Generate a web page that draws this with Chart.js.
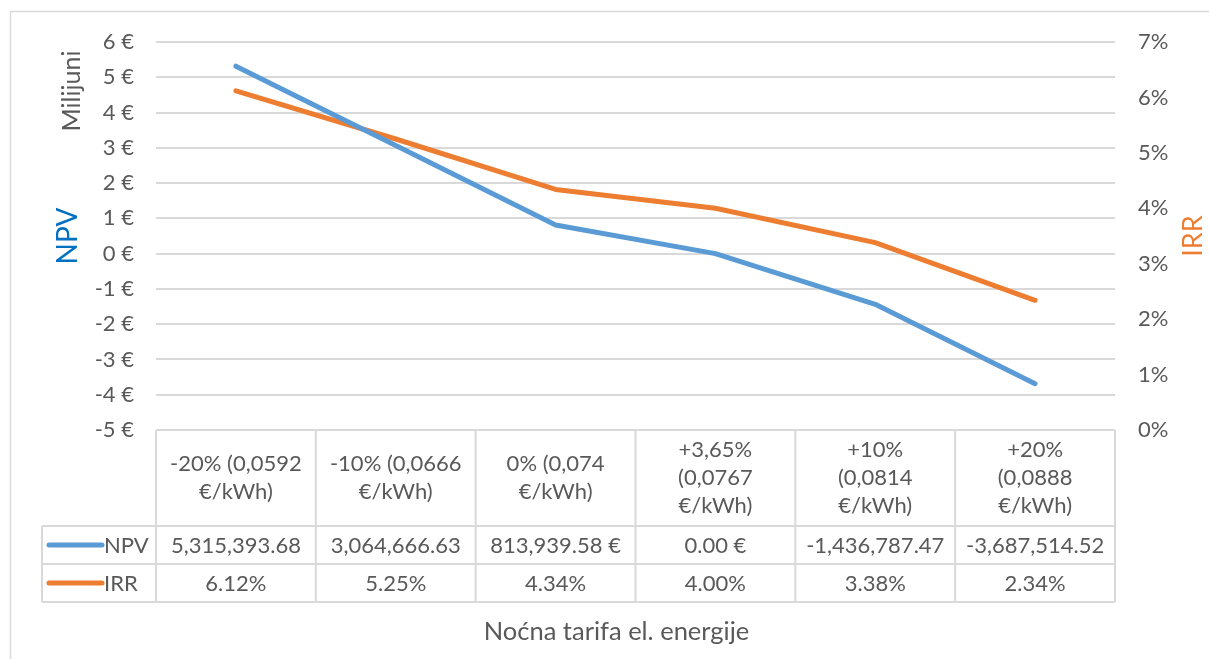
<!DOCTYPE html>
<html>
<head>
<meta charset="utf-8">
<script src="https://cdn.jsdelivr.net/npm/chart.js@4.4.0/dist/chart.umd.min.js"></script>
<style>
  html, body { margin: 0; padding: 0; background: #ffffff; }
  #wrap { width: 1209px; height: 659px; position: relative; }
</style>
</head>
<body>
<div id="wrap"><canvas id="c" width="1209" height="659"></canvas></div>
<script>
// ---- data ----
const categories = [
  ["-20% (0,0592", "€/kWh)"],
  ["-10% (0,0666", "€/kWh)"],
  ["0% (0,074", "€/kWh)"],
  ["+3,65%", "(0,0767", "€/kWh)"],
  ["+10%", "(0,0814", "€/kWh)"],
  ["+20%", "(0,0888", "€/kWh)"]
];
const npvMillions = [5.31539368, 3.06466663, 0.81393958, 0.0, -1.43678747, -3.68751452];
const irrPercent = [6.12, 5.25, 4.34, 4.00, 3.38, 2.34];
const npvTableText = ["5,315,393.68", "3,064,666.63", "813,939.58 €", "0.00 €", "-1,436,787.47", "-3,687,514.52"];
const irrTableText = ["6.12%", "5.25%", "4.34%", "4.00%", "3.38%", "2.34%"];
const seriesNames = ["NPV", "IRR"];
const npvAxisTitle = "NPV";
const irrAxisTitle = "IRR";
const unitsLabel = "Milijuni";
const xAxisTitle = "Noćna tarifa el. energije";

// ---- styles ----
const FONT = '"Lato", "Open Sans", sans-serif';
const TEXT = '#595959';
const GRID = '#D9D9D9';
const BLUE = '#5B9BD5';
const ORANGE = '#ED7D31';

const tablePlugin = {
  id: 'tablePlugin',
  beforeDraw(chart) {
    const ctx = chart.ctx;
    ctx.save();
    ctx.fillStyle = '#ffffff';
    ctx.fillRect(0, 0, chart.width, chart.height);
    ctx.strokeStyle = GRID;
    ctx.lineWidth = 1.5;
    ctx.strokeRect(10.5, 11.5, chart.width + 20, chart.height + 20);
    ctx.restore();
  },
  afterDraw(chart) {
    const ctx = chart.ctx;
    const x = chart.scales.x;
    const ca = chart.chartArea;
    const n = categories.length;
    const bandW = (x.right - x.left) / n;
    const top = ca.bottom;
    const headerBottom = top + 96;
    const row1Bottom = headerBottom + 38;
    const row2Bottom = row1Bottom + 38;
    const tableLeft = 42;

    ctx.save();
    ctx.strokeStyle = GRID;
    ctx.lineWidth = 2;
    const hline = (y, x0, x1) => { ctx.beginPath(); ctx.moveTo(x0, y); ctx.lineTo(x1, y); ctx.stroke(); };
    const vline = (xx, y0, y1) => { ctx.beginPath(); ctx.moveTo(xx, y0); ctx.lineTo(xx, y1); ctx.stroke(); };
    hline(top, x.left, x.right);
    hline(headerBottom, tableLeft, x.right);
    hline(row1Bottom, tableLeft, x.right);
    hline(row2Bottom, tableLeft, x.right);
    for (let i = 0; i <= n; i++) {
      vline(x.left + i * bandW, top, row2Bottom);
    }
    vline(tableLeft, headerBottom, row2Bottom);

    // header labels
    ctx.fillStyle = TEXT;
    ctx.font = '22px ' + FONT;
    ctx.textAlign = 'center';
    ctx.textBaseline = 'middle';
    const lh = 28;
    const hc = (top + headerBottom) / 2;
    categories.forEach((lines, i) => {
      const cx = x.getPixelForValue(i);
      const y0 = hc - (lines.length - 1) * lh / 2;
      lines.forEach((t, k) => ctx.fillText(t, cx, y0 + k * lh));
    });

    // rows
    const r1c = (headerBottom + row1Bottom) / 2;
    const r2c = (row1Bottom + row2Bottom) / 2;
    npvTableText.forEach((t, i) => ctx.fillText(t, x.getPixelForValue(i), r1c + 1));
    irrTableText.forEach((t, i) => ctx.fillText(t, x.getPixelForValue(i), r2c + 1));

    // legend keys
    ctx.lineCap = 'round';
    ctx.lineWidth = 5;
    [[BLUE, r1c, seriesNames[0]], [ORANGE, r2c, seriesNames[1]]].forEach(([col, yy, name]) => {
      ctx.strokeStyle = col;
      ctx.beginPath(); ctx.moveTo(49, yy); ctx.lineTo(102, yy); ctx.stroke();
      ctx.textAlign = 'left';
      ctx.fillStyle = TEXT;
      ctx.fillText(name, 104, yy + 1);
    });

    // x-axis title
    ctx.textAlign = 'center';
    ctx.font = '25.5px ' + FONT;
    ctx.fillText(xAxisTitle, chart.width / 2 + 12, row2Bottom + 30);

    // left titles
    const yS = chart.scales.y;
    const midY = (yS.top + yS.bottom) / 2;
    ctx.save();
    ctx.translate(72, 91);
    ctx.rotate(-Math.PI / 2);
    ctx.font = '25px ' + FONT;
    ctx.fillStyle = TEXT;
    ctx.fillText(unitsLabel, 0, 0);
    ctx.restore();

    ctx.save();
    ctx.translate(68, midY);
    ctx.rotate(-Math.PI / 2);
    ctx.font = '28px ' + FONT;
    ctx.fillStyle = '#0070C0';
    ctx.fillText(npvAxisTitle, 0, 0);
    ctx.restore();

    ctx.save();
    ctx.translate(1193, midY);
    ctx.rotate(-Math.PI / 2);
    ctx.font = '27px ' + FONT;
    ctx.fillStyle = ORANGE;
    ctx.fillText(irrAxisTitle, 0, 0);
    ctx.restore();

    ctx.restore();
  }
};

new Chart(document.getElementById('c'), {
  type: 'line',
  data: {
    labels: categories,
    datasets: [
      { label: seriesNames[0], data: npvMillions, yAxisID: 'y', borderColor: BLUE, backgroundColor: BLUE,
        borderWidth: 5, pointRadius: 0, tension: 0, borderCapStyle: 'round', borderJoinStyle: 'round' },
      { label: seriesNames[1], data: irrPercent, yAxisID: 'y1', borderColor: ORANGE, backgroundColor: ORANGE,
        borderWidth: 5, pointRadius: 0, tension: 0, borderCapStyle: 'round', borderJoinStyle: 'round' }
    ]
  },
  options: {
    responsive: false,
    animation: false,
    devicePixelRatio: 1,
    layout: { padding: { top: 42, left: 0, right: 0, bottom: 0 } },
    plugins: { legend: { display: false }, tooltip: { enabled: false }, title: { display: false } },
    scales: {
      x: {
        type: 'category',
        offset: true,
        grid: { display: false },
        border: { display: false },
        ticks: { display: false },
        afterFit(s) { s.height = 229; }
      },
      y: {
        position: 'left',
        min: -5, max: 6,
        ticks: { stepSize: 1, padding: 22, color: TEXT, font: { size: 22, family: FONT },
                 callback: v => v + ' €' },
        grid: { color: GRID, lineWidth: 2, drawTicks: false },
        border: { display: false },
        afterFit(s) { s.width = 156; }
      },
      y1: {
        position: 'right',
        min: 0, max: 7,
        ticks: { stepSize: 1, padding: 23, color: TEXT, font: { size: 22, family: FONT },
                 callback: v => v + '%' },
        grid: { display: false, drawTicks: false },
        border: { display: false },
        afterFit(s) { s.width = 94; }
      }
    }
  },
  plugins: [tablePlugin]
});
</script>
</body>
</html>
